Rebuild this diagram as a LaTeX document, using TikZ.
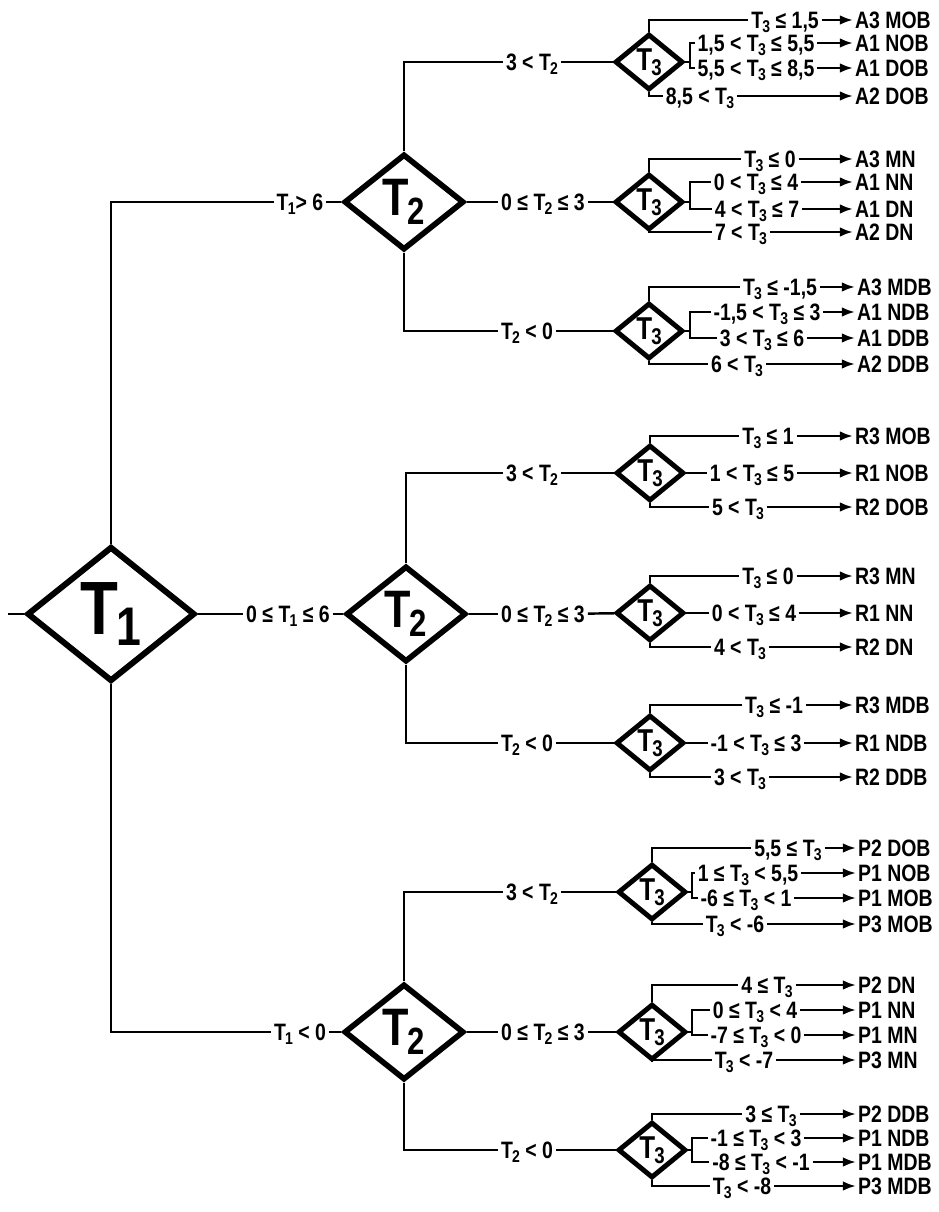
\documentclass[tikz,border=0pt]{standalone}
\usepackage{fontspec}
\setmainfont{Liberation Sans}[FakeStretch=0.82]
\usepackage{graphicx}
\usetikzlibrary{shapes.geometric,arrows.meta}
\newcommand{\Tsb}[1]{T\kern-0.03em\raisebox{-0.3ex}{\scalebox{0.72}{#1}}}

\begin{document}
\begin{tikzpicture}[x=0.02cm, y=-0.02cm,
  t1dia/.style={diamond, draw, line width=3.4pt, inner sep=0pt, minimum width=3.36cm, minimum height=2.7cm, font=\fontsize{43}{43}\selectfont\bfseries},
  t2dia/.style={diamond, draw, line width=3.2pt, inner sep=0pt, minimum width=2.4cm, minimum height=1.92cm, font=\fontsize{30}{30}\selectfont\bfseries},
  t3dia/.style={diamond, draw, line width=2.8pt, inner sep=0pt, minimum width=1.36cm, minimum height=1.12cm, font=\fontsize{18}{18}\selectfont\bfseries},
  cond/.style={inner sep=1.5pt, text height=10pt, text depth=0pt, font=\fontsize{13.5}{15}\selectfont\bfseries},
  res/.style={cond, anchor=west, inner sep=1pt},
  conn/.style={line width=1.4pt},
  arr/.style={conn, -{Latex[length=7.5pt,width=5.5pt]}}
]
\useasboundingbox (0,0) rectangle (938,1212);

% first level
\coordinate (in) at (8,614);
\node[t1dia] (t1) at (111,614) {\Tsb1};
\node[cond] (al) at (300,202) {\Tsb1> 6};
\node[cond] (rl) at (288,614) {0 ≤ \Tsb1 ≤ 6};
\node[cond] (pl) at (300,1032) {\Tsb1 < 0};
\node[t2dia] (ta) at (404,202) {\Tsb2};
\node[t2dia] (tr) at (406,614) {\Tsb2};
\node[t2dia] (tp) at (404,1032) {\Tsb2};

\draw[conn] (in) -- (t1);
\draw[conn] (t1.north) |- (al);
\draw[conn] (al) -- (ta);
\draw[conn] (t1) -- (rl);
\draw[conn] (rl) -- (tr);
\draw[conn] (t1.south) |- (pl);
\draw[conn] (pl) -- (tp);

% second level
\node[cond] (a1l) at (532,62) {3 < \Tsb2};
\node[cond] (a2l) at (543,202) {0 ≤ \Tsb2 ≤ 3};
\node[cond] (a3l) at (527,331) {\Tsb2 < 0};
\node[cond] (r1l) at (532,473) {3 < \Tsb2};
\node[cond] (r2l) at (543,614) {0 ≤ \Tsb2 ≤ 3};
\node[cond] (r3l) at (527,743) {\Tsb2 < 0};
\node[cond] (p1l) at (532,892) {3 < \Tsb2};
\node[cond] (p2l) at (543,1032) {0 ≤ \Tsb2 ≤ 3};
\node[cond] (p3l) at (527,1150) {\Tsb2 < 0};

\node[t3dia] (a1) at (649,62) {\Tsb3};
\node[t3dia] (a2) at (649,202) {\Tsb3};
\node[t3dia] (a3) at (649,331) {\Tsb3};
\node[t3dia] (r1) at (650,473) {\Tsb3};
\node[t3dia] (r2) at (650,613) {\Tsb3};
\node[t3dia] (r3) at (650,743) {\Tsb3};
\node[t3dia] (p1) at (652,892) {\Tsb3};
\node[t3dia] (p2) at (652,1032) {\Tsb3};
\node[t3dia] (p3) at (652,1150) {\Tsb3};

\draw[conn] (ta.north) |- (a1l);
\draw[conn] (a1l) -- (a1);
\draw[conn] (ta) -- (a2l);
\draw[conn] (a2l) -- (a2);
\draw[conn] (ta.south) |- (a3l);
\draw[conn] (a3l) -- (a3);
\draw[conn] (tr.north) |- (r1l);
\draw[conn] (r1l) -- (r1);
\draw[conn] (tr) -- (r2l);
\draw[conn] (r2l) -- (r2);
\draw[conn] (tr.south) |- (r3l);
\draw[conn] (r3l) -- (r3);
\draw[conn] (tp.north) |- (p1l);
\draw[conn] (p1l) -- (p1);
\draw[conn] (tp) -- (p2l);
\draw[conn] (p2l) -- (p2);
\draw[conn] (tp.south) |- (p3l);
\draw[conn] (p3l) -- (p3);

% third level, A
\node[cond] (a1c1) at (785,20) {\Tsb3 ≤ 1,5};
\node[cond] (a1c2) at (756,43) {1,5 < \Tsb3 ≤ 5,5};
\node[cond] (a1c3) at (756,68) {5,5 < \Tsb3 ≤ 8,5};
\node[cond] (a1c4) at (700,96) {8,5 < \Tsb3};
\node[res] (a1r1) at (853,20) {A3 MOB};
\node[res] (a1r2) at (853,43) {A1 NOB};
\node[res] (a1r3) at (853,68) {A1 DOB};
\node[res] (a1r4) at (853,96) {A2 DOB};
\coordinate (a1b) at (690,62);
\draw[conn] (a1.north) |- (a1c1);
\draw[conn] (a1.east) -- (a1b);
\draw[conn] (a1c2) -| (a1b) |- (a1c3);
\draw[conn] (a1.south) |- (a1c4);
\draw[arr] (a1c1) -- (a1r1);
\draw[arr] (a1c2) -- (a1r2);
\draw[arr] (a1c3) -- (a1r3);
\draw[arr] (a1c4) -- (a1r4);

\node[cond] (a2c1) at (770,159) {\Tsb3 ≤ 0};
\node[cond] (a2c2) at (756,182) {0 < \Tsb3 ≤ 4};
\node[cond] (a2c3) at (757,209) {4 < \Tsb3 ≤ 7};
\node[cond] (a2c4) at (741,232) {7 < \Tsb3};
\node[res] (a2r1) at (853,159) {A3 MN};
\node[res] (a2r2) at (853,182) {A1 NN};
\node[res] (a2r3) at (853,209) {A1 DN};
\node[res] (a2r4) at (853,232) {A2 DN};
\coordinate (a2b) at (690,202);
\draw[conn] (a2.north) |- (a2c1);
\draw[conn] (a2.east) -- (a2b);
\draw[conn] (a2c2) -| (a2b) |- (a2c3);
\draw[conn] (a2.south) |- (a2c4);
\draw[arr] (a2c1) -- (a2r1);
\draw[arr] (a2c2) -- (a2r2);
\draw[arr] (a2c3) -- (a2r3);
\draw[arr] (a2c4) -- (a2r4);

\node[cond] (a3c1) at (780,287) {\Tsb3 ≤ -1,5};
\node[cond] (a3c2) at (767,312) {-1,5 < \Tsb3 ≤ 3};
\node[cond] (a3c3) at (762,338) {3 < \Tsb3 ≤ 6};
\node[cond] (a3c4) at (737,364) {6 < \Tsb3};
\node[res] (a3r1) at (855,287) {A3 MDB};
\node[res] (a3r2) at (855,312) {A1 NDB};
\node[res] (a3r3) at (855,338) {A1 DDB};
\node[res] (a3r4) at (855,364) {A2 DDB};
\coordinate (a3b) at (690,331);
\draw[conn] (a3.north) |- (a3c1);
\draw[conn] (a3.east) -- (a3b);
\draw[conn] (a3c2) -| (a3b) |- (a3c3);
\draw[conn] (a3.south) |- (a3c4);
\draw[arr] (a3c1) -- (a3r1);
\draw[arr] (a3c2) -- (a3r2);
\draw[arr] (a3c3) -- (a3r3);
\draw[arr] (a3c4) -- (a3r4);

% third level, R
\node[cond] (r1c1) at (768,436) {\Tsb3 ≤ 1};
\node[cond] (r1c2) at (752,473) {1 < \Tsb3 ≤ 5};
\node[cond] (r1c3) at (738,507) {5 < \Tsb3};
\node[res] (r1r1) at (853,436) {R3 MOB};
\node[res] (r1r2) at (853,473) {R1 NOB};
\node[res] (r1r3) at (853,507) {R2 DOB};
\draw[conn] (r1.north) |- (r1c1);
\draw[conn] (r1) -- (r1c2);
\draw[conn] (r1.south) |- (r1c3);
\draw[arr] (r1c1) -- (r1r1);
\draw[arr] (r1c2) -- (r1r2);
\draw[arr] (r1c3) -- (r1r3);

\node[cond] (r2c1) at (768,576) {\Tsb3 ≤ 0};
\node[cond] (r2c2) at (754,613) {0 < \Tsb3 ≤ 4};
\node[cond] (r2c3) at (740,647) {4 < \Tsb3};
\node[res] (r2r1) at (853,576) {R3 MN};
\node[res] (r2r2) at (853,613) {R1 NN};
\node[res] (r2r3) at (853,647) {R2 DN};
\draw[conn] (r2.north) |- (r2c1);
\draw[conn] (r2) -- (r2c2);
\draw[conn] (r2.south) |- (r2c3);
\draw[arr] (r2c1) -- (r2r1);
\draw[arr] (r2c2) -- (r2r2);
\draw[arr] (r2c3) -- (r2r3);

\node[cond] (r3c1) at (774,705) {\Tsb3 ≤ -1};
\node[cond] (r3c2) at (756,743) {-1 < \Tsb3 ≤ 3};
\node[cond] (r3c3) at (740,777) {3 < \Tsb3};
\node[res] (r3r1) at (853,705) {R3 MDB};
\node[res] (r3r2) at (853,743) {R1 NDB};
\node[res] (r3r3) at (853,777) {R2 DDB};
\draw[conn] (r3.north) |- (r3c1);
\draw[conn] (r3) -- (r3c2);
\draw[conn] (r3.south) |- (r3c3);
\draw[arr] (r3c1) -- (r3r1);
\draw[arr] (r3c2) -- (r3r2);
\draw[arr] (r3c3) -- (r3r3);

% third level, P
\node[cond] (p1c1) at (788,848) {5,5 ≤ \Tsb3};
\node[cond] (p1c2) at (748,873) {1 ≤ \Tsb3 < 5,5};
\node[cond] (p1c3) at (746,898) {-6 ≤ \Tsb3 < 1};
\node[cond] (p1c4) at (735,924) {\Tsb3 < -6};
\node[res] (p1r1) at (856,848) {P2 DOB};
\node[res] (p1r2) at (856,873) {P1 NOB};
\node[res] (p1r3) at (856,898) {P1 MOB};
\node[res] (p1r4) at (856,924) {P3 MOB};
\coordinate (p1b) at (692,892);
\draw[conn] (p1.north) |- (p1c1);
\draw[conn] (p1.east) -- (p1b);
\draw[conn] (p1c2) -| (p1b) |- (p1c3);
\draw[conn] (p1.south) |- (p1c4);
\draw[arr] (p1c1) -- (p1r1);
\draw[arr] (p1c2) -- (p1r2);
\draw[arr] (p1c3) -- (p1r3);
\draw[arr] (p1c4) -- (p1r4);

\node[cond] (p2c1) at (767,985) {4 ≤ \Tsb3};
\node[cond] (p2c2) at (755,1010) {0 ≤ \Tsb3 < 4};
\node[cond] (p2c3) at (756,1035) {-7 ≤ \Tsb3 < 0};
\node[cond] (p2c4) at (744,1060) {\Tsb3 < -7};
\node[res] (p2r1) at (856,985) {P2 DN};
\node[res] (p2r2) at (856,1010) {P1 NN};
\node[res] (p2r3) at (856,1035) {P1 MN};
\node[res] (p2r4) at (856,1060) {P3 MN};
\coordinate (p2b) at (692,1032);
\draw[conn] (p2.north) |- (p2c1);
\draw[conn] (p2.east) -- (p2b);
\draw[conn] (p2c2) -| (p2b) |- (p2c3);
\draw[conn] (p2.south) |- (p2c4);
\draw[arr] (p2c1) -- (p2r1);
\draw[arr] (p2c2) -- (p2r2);
\draw[arr] (p2c3) -- (p2r3);
\draw[arr] (p2c4) -- (p2r4);

\node[cond] (p3c1) at (771,1114) {3 ≤ \Tsb3};
\node[cond] (p3c2) at (756,1138) {-1 ≤ \Tsb3 < 3};
\node[cond] (p3c3) at (761,1162) {-8 ≤ \Tsb3 < -1};
\node[cond] (p3c4) at (742,1186) {\Tsb3 < -8};
\node[res] (p3r1) at (856,1114) {P2 DDB};
\node[res] (p3r2) at (856,1138) {P1 NDB};
\node[res] (p3r3) at (856,1162) {P1 MDB};
\node[res] (p3r4) at (856,1186) {P3 MDB};
\coordinate (p3b) at (692,1150);
\draw[conn] (p3.north) |- (p3c1);
\draw[conn] (p3.east) -- (p3b);
\draw[conn] (p3c2) -| (p3b) |- (p3c3);
\draw[conn] (p3.south) |- (p3c4);
\draw[arr] (p3c1) -- (p3r1);
\draw[arr] (p3c2) -- (p3r2);
\draw[arr] (p3c3) -- (p3r3);
\draw[arr] (p3c4) -- (p3r4);
\end{tikzpicture}
\end{document}
